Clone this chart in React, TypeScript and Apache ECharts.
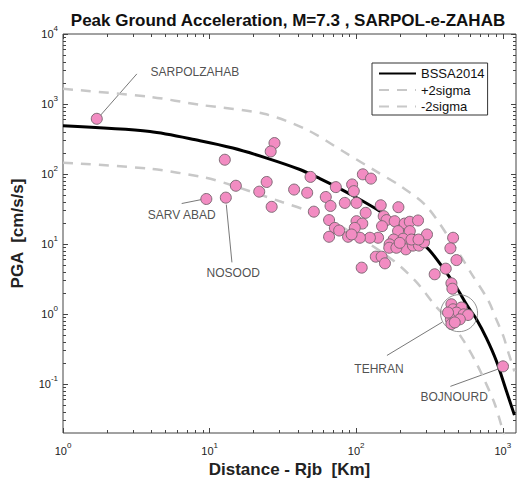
import React, { useEffect, useRef } from "react";
import * as echarts from "echarts";

// ---------- data ----------
const distanceKm = [
  1.7, 12.7, 15.1, 9.5, 12.9, 27.7, 26.1, 24.5, 21.8, 26.5,
  37.7, 46.3, 48.8, 72.6, 62, 66.8, 51.4, 65.3, 71.5, 65.3,
  111, 126, 93.8, 96.3, 83.6, 100.5, 147, 194, 116, 100.5,
  110, 76.5, 97.8, 154, 161, 183, 150, 214, 232, 264,
  193, 232, 209, 180, 169, 218, 244, 268, 290, 304,
  136, 149, 157, 109, 88, 141, 124, 106, 93, 168,
  188, 198, 238, 266, 458, 439, 483, 408, 343, 446,
  453, 446, 458, 522, 483, 541, 579, 442, 509, 446,
  470, 423, 1003,
];
const pgaObs = [
  615, 160, 68, 44, 46, 277, 210, 77, 56, 34,
  60, 54, 91, 65, 47, 35, 29, 22, 17, 12.7,
  99, 86, 71, 57, 38.7, 38.7, 35.8, 33.6, 27.9, 21.2,
  19.6, 15.6, 17, 25, 22, 21.2, 18, 19.6, 20.8, 21.7,
  15.3, 15.3, 11.9, 11.6, 9.9, 8.4, 9.5, 9.5, 10.6, 13.7,
  6.6, 6.6, 5.3, 4.6, 12.7, 12.3, 12.3, 12.3, 13.7, 8.85,
  8.85, 10.4, 11.6, 11.6, 12.3, 8.7, 5.9, 4.45, 3.7, 2.75,
  2.3, 1.38, 1.17, 1.24, 1.05, 0.99, 0.97, 0.84, 0.84, 0.72,
  0.76, 1.05, 0.179,
];

const medianR = [1, 3.92, 8.59, 14.4, 24.5, 41.3, 56.5, 77.3, 106, 145, 198, 258, 317, 389, 483, 576, 661, 773, 904, 1058, 1200];
const medianPGA = [489, 405, 299, 235, 169, 116, 86, 62, 43.2, 29.4, 19, 12.3, 8.1, 4.64, 2.39, 1.29, 0.843, 0.452, 0.213, 0.0795, 0.036];

const plusR = [1, 3.92, 8.59, 23.5, 46.1, 82.3, 138, 198, 303, 493, 609, 795, 902, 1006, 1097, 1187, 1200];
const plusPGA = [1647, 1266, 974, 725, 429, 208, 108, 68.4, 34.3, 7.84, 3.81, 1.57, 0.843, 0.491, 0.272, 0.164, 0.152];

const minusR = [1, 3.92, 9.29, 13.1, 31.1, 43.3, 58.3, 90.4, 175, 255, 349, 435, 537, 644, 753, 881, 975, 1040];
const minusPGA = [145, 119, 88.9, 73, 39.8, 31.6, 24.7, 15.1, 6.03, 2.93, 1.29, 0.79, 0.424, 0.22, 0.112, 0.052, 0.026, 0.016];

const tehranCircle = [503, 1.03];

const annotationNames = ["SARPOLZAHAB", "SARV ABAD", "NOSOOD", "TEHRAN", "BOJNOURD"];
const annotationTextAt = [[7.94, 2831], [6.45, 25.6], [14.5, 3.81], [143, 0.166], [466, 0.0653]];
const leaderFrom = [[3.19, 2693], [6.45, 37.9], [13.0, 36.6], [162, 0.256], [439, 0.0927]];
const leaderTo = [[1.79, 679], [8.82, 43.2], [14.2, 5.47], [385, 0.764], [938, 0.165]];

const xMajorTicks = [1, 10, 100, 1000];
const yMajorTicks = [0.1, 1, 10, 100, 1000, 10000];
const xMinorTicks = [2, 3, 4, 5, 6, 7, 8, 9, 20, 30, 40, 50, 60, 70, 80, 90, 200, 300, 400, 500, 600, 700, 800, 900];
const yMinorTicks = [
  0.03, 0.04, 0.05, 0.06, 0.07, 0.08, 0.09,
  0.2, 0.3, 0.4, 0.5, 0.6, 0.7, 0.8, 0.9,
  2, 3, 4, 5, 6, 7, 8, 9,
  20, 30, 40, 50, 60, 70, 80, 90,
  200, 300, 400, 500, 600, 700, 800, 900,
  2000, 3000, 4000, 5000, 6000, 7000, 8000, 9000,
];

const X_MIN = 1, X_MAX = 1230, Y_MIN = 0.02, Y_MAX = 10000;

const FONT = "'Liberation Sans', Arial, Helvetica, sans-serif";
const AXIS_COLOR = "#444";

const pairs = (xs: number[], ys: number[]) => xs.map((x, i) => [x, ys[i]]);

const powLabel = (v: number) => {
  const e = Math.round(Math.log10(v));
  if (Math.abs(Math.log10(v) - e) > 1e-6) return "";
  return `{b|10}{s|${e}}`;
};

const labelRich = {
  b: { fontSize: 11, fontFamily: FONT, color: "#222", lineHeight: 19 },
  s: { fontSize: 8, fontFamily: FONT, color: "#222", lineHeight: 9, verticalAlign: "top" },
};

function makeAxes(dim: "x" | "y") {
  const isX = dim === "x";
  const base = {
    type: "log",
    logBase: 10,
    min: isX ? X_MIN : Y_MIN,
    max: isX ? X_MAX : Y_MAX,
    splitLine: { show: false },
    axisLine: { show: false },
  };
  const major = isX ? xMajorTicks : yMajorTicks;
  const minor = isX ? xMinorTicks : yMinorTicks;
  const posA = isX ? "bottom" : "left";
  const posB = isX ? "top" : "right";
  const tick = (vals: number[], len: number) => ({
    show: true, inside: true, length: len, customValues: vals,
    lineStyle: { color: AXIS_COLOR, width: 1 },
  });
  return [
    {
      ...base, position: posA,
      axisTick: tick(major, 5),
      axisLabel: {
        show: true, customValues: major, formatter: powLabel, rich: labelRich,
        margin: isX ? 8 : 5,
      },
      name: isX ? "Distance - Rjb  [Km]" : "PGA  [cm/s/s]",
      nameLocation: "middle",
      nameGap: isX ? 27 : 37,
      nameTextStyle: { fontSize: 17, fontWeight: "bold", fontFamily: FONT, color: "#222" },
    },
    { ...base, position: posA, axisTick: tick(minor, 3), axisLabel: { show: false } },
    { ...base, position: posB, axisTick: tick(major, 5), axisLabel: { show: false } },
    { ...base, position: posB, axisTick: tick(minor, 3), axisLabel: { show: false } },
  ];
}

export default function App() {
  const ref = useRef<HTMLDivElement>(null);
  useEffect(() => {
    if (!ref.current) return;
    const chart = echarts.init(ref.current, null, { renderer: "svg" });
    const dashed = { color: "#c8c8c8", width: 2.5, type: [10, 8] };
    const option: any = {
      animation: false,
      backgroundColor: "#fff",
      title: {
        text: "Peak Ground Acceleration, M=7.3 , SARPOL-e-ZAHAB",
        left: 288, top: 12, textAlign: "center",
        textStyle: { fontSize: 17, fontWeight: "bold", fontFamily: FONT, color: "#111" },
        padding: 0,
      },
      grid: {
        left: 63, top: 34, right: 2, bottom: 45,
        show: true, borderColor: AXIS_COLOR, borderWidth: 1,
        backgroundColor: "transparent",
        outerBoundsMode: "none",
      },
      legend: {
        data: ["BSSA2014", "+2sigma", "-2sigma"],
        orient: "vertical",
        left: 372, top: 63,
        itemWidth: 37, itemHeight: 14, itemGap: 3.5,
        padding: [4, 3, 2, 6],
        borderColor: "#333", borderWidth: 1, borderRadius: 0,
        backgroundColor: "#fff",
        itemStyle: { opacity: 0 },
        textStyle: { fontSize: 13, fontFamily: FONT, color: "#111" },
      },
      xAxis: makeAxes("x"),
      yAxis: makeAxes("y"),
      series: [
        {
          name: "+2sigma", type: "line", data: pairs(plusR, plusPGA),
          smooth: 0.3, symbol: "none", lineStyle: dashed, itemStyle: { color: "#c8c8c8" },
        },
        {
          name: "-2sigma", type: "line", data: pairs(minusR, minusPGA),
          smooth: 0.3, symbol: "none", lineStyle: dashed, itemStyle: { color: "#c8c8c8" },
        },
        {
          name: "BSSA2014", type: "line", data: pairs(medianR, medianPGA),
          smooth: 0.3, symbol: "none", lineStyle: { color: "#000", width: 3 }, itemStyle: { color: "#000" },
        },
        {
          name: "leaders", type: "lines", coordinateSystem: "cartesian2d",
          data: leaderFrom.map((p, i) => ({ coords: [p, leaderTo[i]] })),
          lineStyle: { color: "#555", width: 0.8, opacity: 1 },
          symbol: "none",
        },
        {
          name: "Stations", type: "scatter", data: pairs(distanceKm, pgaObs),
          symbol: "circle", symbolSize: 11,
          itemStyle: { color: "#f28cc2", borderColor: "#806a76", borderWidth: 1, opacity: 1 },
          z: 5,
        },
        {
          name: "Tehran", type: "scatter", data: [tehranCircle],
          symbol: "circle", symbolSize: 37,
          itemStyle: { color: "rgba(0,0,0,0)", borderColor: "#777", borderWidth: 1 },
          z: 6, silent: true,
        },
        {
          name: "labels", type: "scatter",
          data: annotationNames.map((n, i) => ({ name: n, value: annotationTextAt[i] })),
          symbol: "circle", symbolSize: 1,
          itemStyle: { color: "rgba(0,0,0,0)" },
          label: {
            show: true, position: "inside", formatter: "{b}",
            fontSize: 12, fontFamily: FONT, color: "#222",
          },
          z: 7,
        },
      ],
    };
    chart.setOption(option);
    return () => chart.dispose();
  }, []);
  return (
    <div
      ref={ref}
      style={{ position: "absolute", left: 0, top: 0, width: 518, height: 478, background: "#fff" }}
    />
  );
}
